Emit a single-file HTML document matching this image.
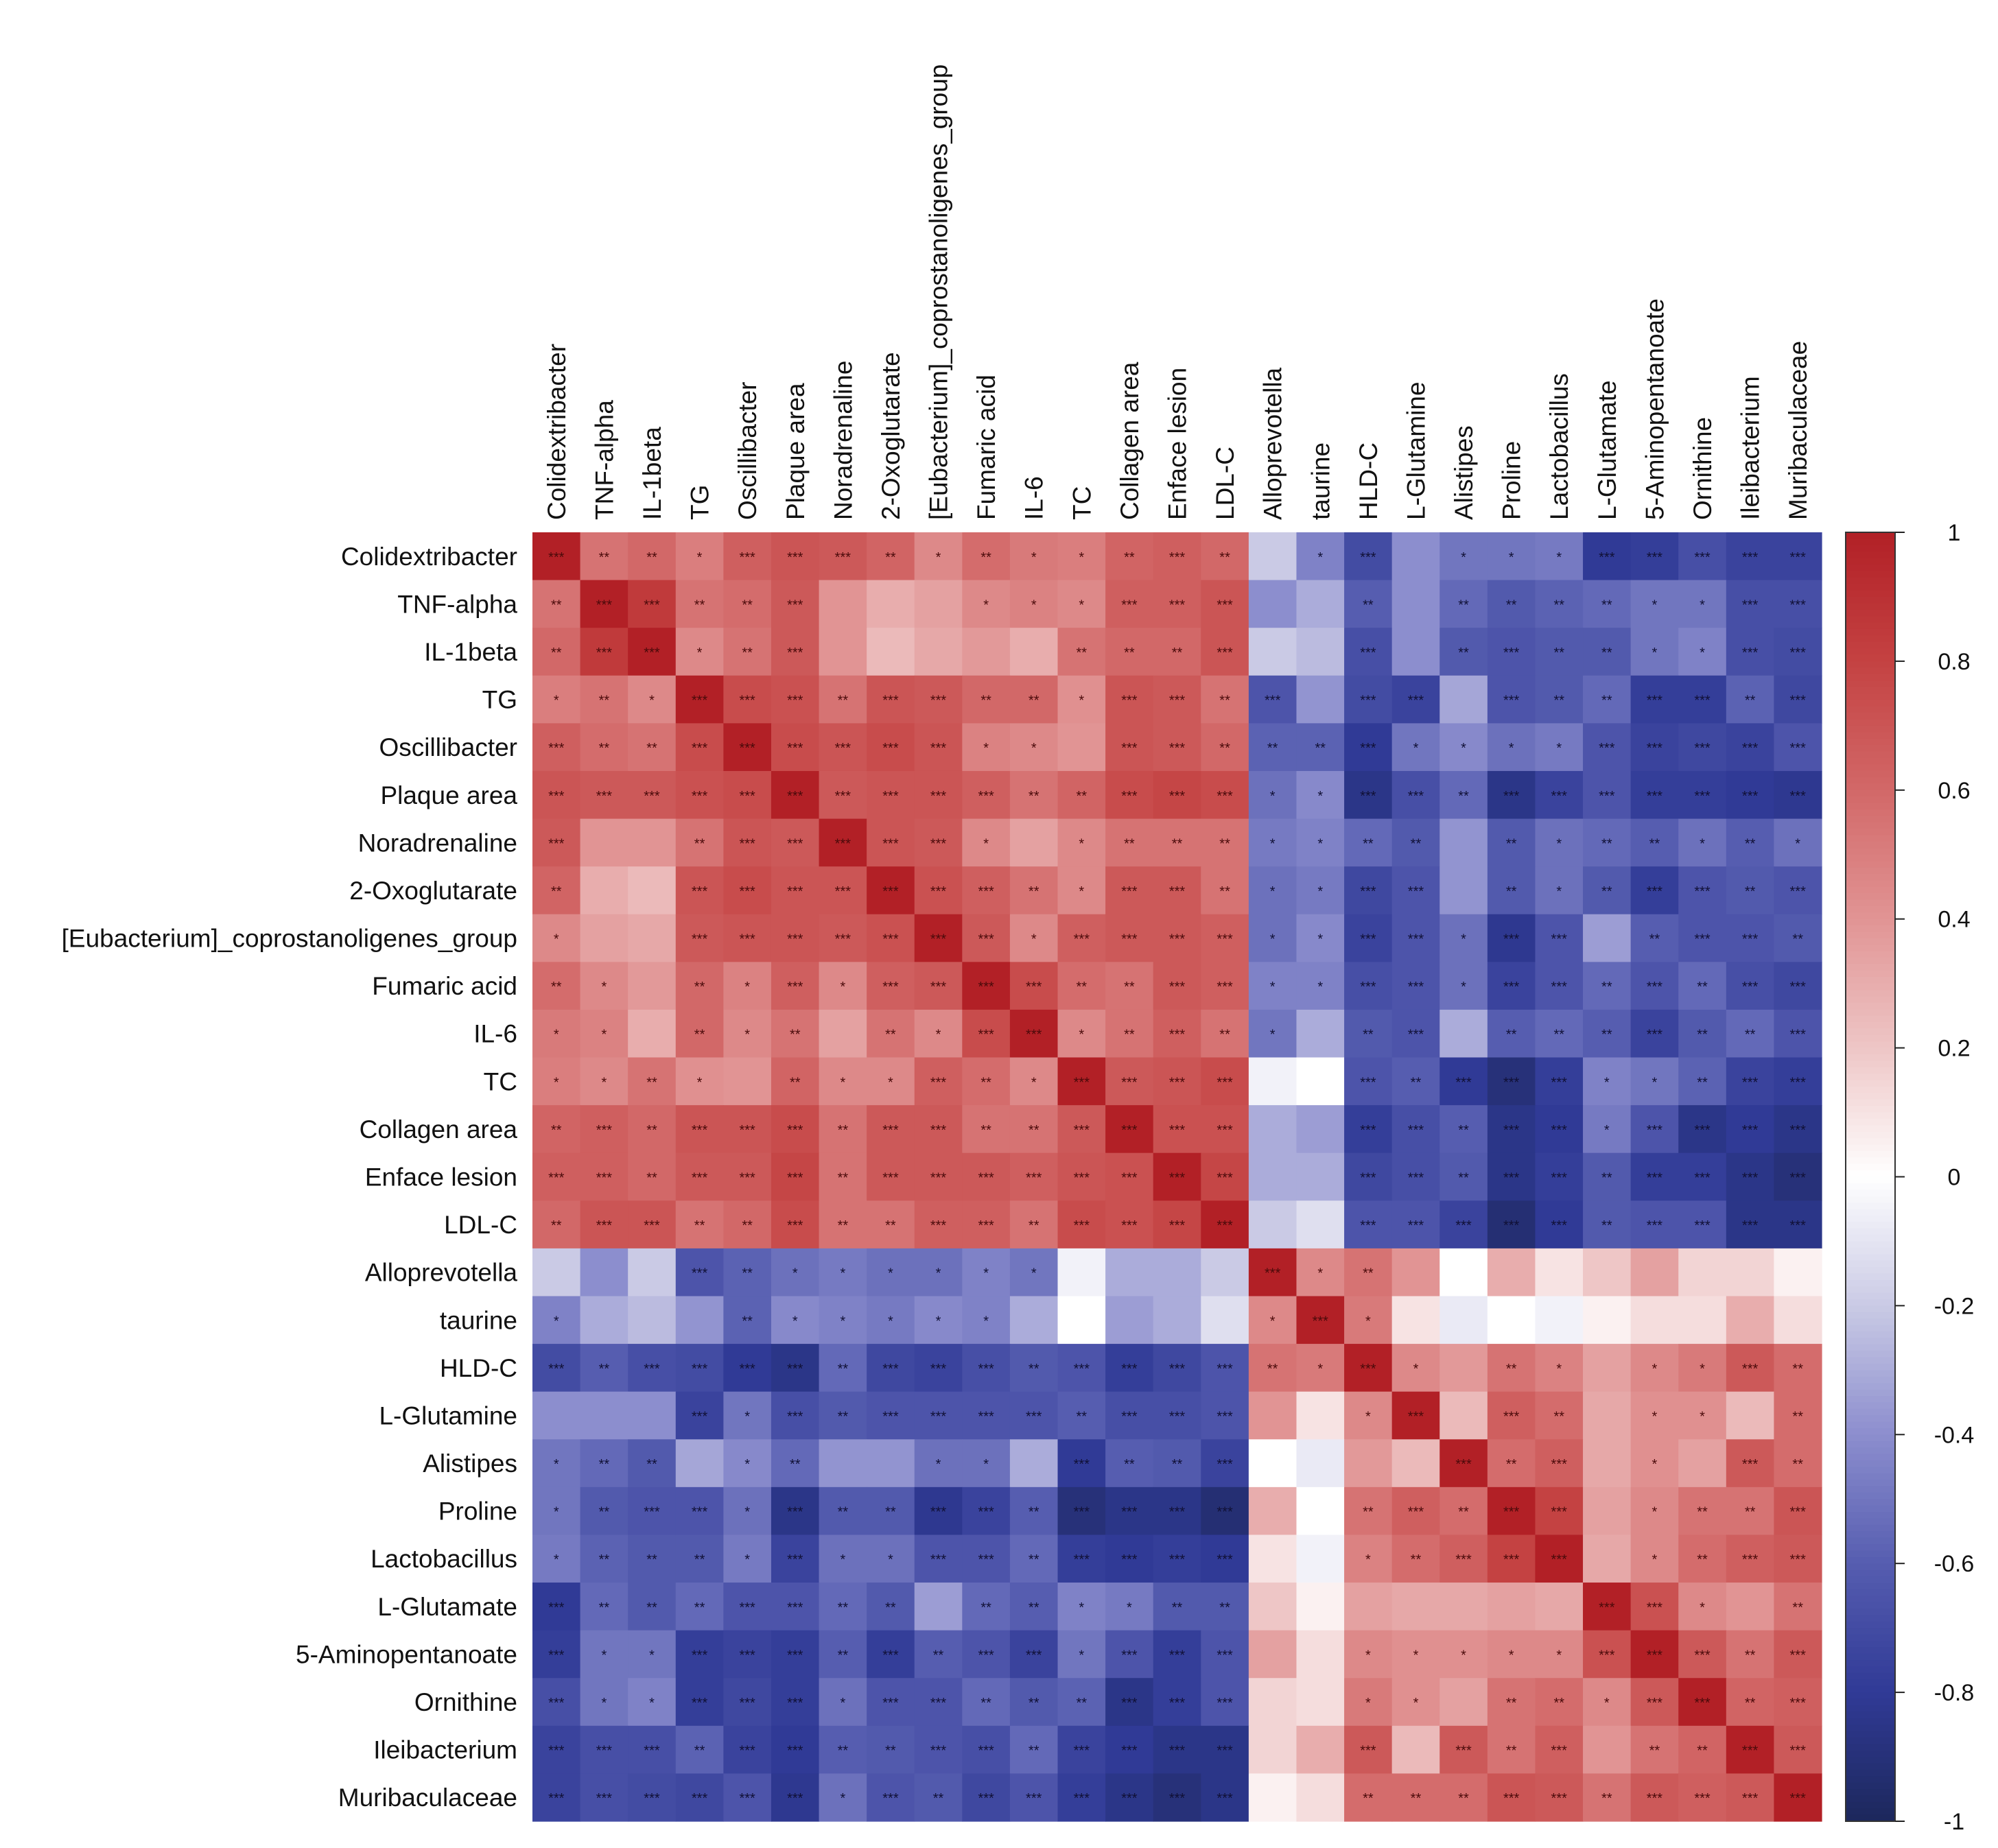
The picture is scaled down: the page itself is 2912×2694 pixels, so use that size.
<!DOCTYPE html>
<html><head><meta charset="utf-8"><style>
html,body{margin:0;padding:0;background:#fff;}
svg{display:block;font-family:"Liberation Sans",Arial,sans-serif;}
</style></head><body>
<svg id="chart" width="2912" height="2694" viewBox="0 0 2912 2694" xmlns="http://www.w3.org/2000/svg">
<g id="cells"></g>
<g id="stars"></g>
<g id="rowlabels"></g>
<g id="collabels"></g>
<g id="legend"></g>
</svg>
<script>
const labels = ["Colidextribacter","TNF-alpha","IL-1beta","TG","Oscillibacter","Plaque area","Noradrenaline","2-Oxoglutarate","[Eubacterium]_coprostanoligenes_group","Fumaric acid","IL-6","TC","Collagen area","Enface lesion","LDL-C","Alloprevotella","taurine","HLD-C","L-Glutamine","Alistipes","Proline","Lactobacillus","L-Glutamate","5-Aminopentanoate","Ornithine","Ileibacterium","Muribaculaceae"];
// upper triangle values (row i, columns i..26)
const upperValues = [
[1,.55,.6,.5,.65,.7,.68,.62,.45,.58,.52,.5,.62,.65,.6, -.2,-.45,-.7,-.4,-.5,-.5,-.48,-.8,-.78,-.68,-.75,-.75],
[1,.85,.55,.58,.68,.4,.3,.35,.45,.48,.45,.65,.65,.7, -.4,-.3,-.6,-.4,-.55,-.62,-.58,-.55,-.5,-.5,-.68,-.68],
[1,.45,.55,.68,.4,.25,.32,.38,.3,.55,.6,.6,.7, -.2,-.25,-.68,-.4,-.62,-.65,-.62,-.62,-.5,-.45,-.68,-.7],
[1,.75,.72,.55,.7,.68,.6,.6,.42,.7,.68,.55, -.65,-.38,-.7,-.75,-.32,-.65,-.62,-.55,-.78,-.78,-.58,-.72],
[1,.75,.7,.75,.7,.48,.45,.4,.7,.68,.6, -.58,-.58,-.8,-.5,-.42,-.52,-.48,-.65,-.75,-.72,-.75,-.65],
[1,.68,.7,.7,.65,.55,.62,.75,.78,.75, -.52,-.42,-.85,-.68,-.55,-.85,-.75,-.65,-.78,-.78,-.8,-.82],
[1,.7,.68,.45,.35,.45,.55,.55,.55, -.48,-.45,-.55,-.62,-.38,-.62,-.52,-.55,-.6,-.52,-.6,-.52],
[1,.72,.65,.55,.45,.68,.68,.55, -.52,-.48,-.72,-.65,-.38,-.62,-.52,-.62,-.78,-.65,-.62,-.65],
[1,.68,.45,.65,.68,.68,.65, -.52,-.42,-.75,-.65,-.52,-.82,-.65,-.35,-.6,-.65,-.65,-.62],
[1,.75,.58,.55,.68,.65, -.45,-.45,-.68,-.65,-.52,-.75,-.65,-.55,-.65,-.55,-.68,-.72],
[1,.45,.55,.65,.55, -.5,-.3,-.62,-.65,-.3,-.6,-.55,-.6,-.75,-.62,-.55,-.65],
[1,.68,.7,.75, -.05,0,-.65,-.6,-.8,-.9,-.78,-.45,-.5,-.58,-.75,-.78],
[1,.72,.72, -.3,-.35,-.78,-.68,-.6,-.85,-.8,-.48,-.65,-.85,-.8,-.85],
[1,.78, -.3,-.3,-.72,-.68,-.62,-.85,-.78,-.62,-.78,-.78,-.85,-.9],
[1, -.2,-.12,-.65,-.65,-.75,-.92,-.8,-.62,-.65,-.65,-.85,-.85],
[1,.45,.55,.4,0,.3,.1,.2,.35,.15,.15,.05],
[1,.52,.1,-.08,0,-.05,.05,.12,.12,.3,.12],
[1,.45,.38,.55,.48,.35,.45,.52,.68,.58],
[1,.25,.65,.58,.32,.42,.42,.25,.58],
[1,.58,.65,.32,.42,.35,.68,.58],
[1,.8,.35,.45,.55,.55,.7],
[1,.32,.45,.58,.65,.68],
[1,.72,.45,.4,.55],
[1,.68,.55,.68],
[1,.62,.65],
[1,.68],
[1]
];
const tickValues = [1,0.8,0.6,0.4,0.2,0,-0.2,-0.4,-0.6,-0.8,-1];
const tickLabels = ["1","0.8","0.6","0.4","0.2","0","-0.2","-0.4","-0.6","-0.8","-1"];

const NS="http://www.w3.org/2000/svg";
const X0=776, Y0=776, X1=2655, Y1=2655;
const n=labels.length, cw=(X1-X0)/n, ch=(Y1-Y0)/n;
const xPos=j=>X0+j*cw, yPos=i=>Y0+i*ch;
const stops=[[-1,[29,40,92]],[-0.8,[48,58,150]],[-0.6,[86,93,176]],[-0.4,[140,142,206]],[-0.2,[202,202,229]],[0,[255,255,255]],[0.2,[238,198,198]],[0.4,[225,148,148]],[0.6,[210,104,104]],[0.8,[196,66,66]],[1,[178,32,38]]];
function color(v){v=Math.max(-1,Math.min(1,v));for(let k=0;k<stops.length-1;k++){const a=stops[k],b=stops[k+1];if(v<=b[0]){const t=(v-a[0])/(b[0]-a[0]);const c=a[1].map((x,i)=>Math.round(x+(b[1][i]-x)*t));return `rgb(${c[0]},${c[1]},${c[2]})`;}}return 'rgb(178,32,38)';}
function mk(tag,attrs,parent){const e=document.createElementNS(NS,tag);for(const k in attrs)e.setAttribute(k,attrs[k]);parent.appendChild(e);return e;}
function val(i,j){if(j<i){const t=i;i=j;j=t;}return upperValues[i][j-i];}
function star(v){const a=Math.abs(v);if(a>=0.65)return "***";if(a>=0.53)return "**";if(a>=0.42)return "*";return "";}
const gC=document.getElementById('cells'),gS=document.getElementById('stars'),gR=document.getElementById('rowlabels'),gL=document.getElementById('collabels'),gG=document.getElementById('legend');
for(let i=0;i<n;i++){for(let j=0;j<n;j++){const v=val(i,j);
 const r=mk('rect',{x:xPos(j),y:yPos(i),width:cw+0.6,height:ch+0.6,fill:color(v)},gC);
 
 
 const s=star(v);if(s){const t=mk('text',{x:xPos(j)+cw/2,y:yPos(i)+ch/2+8,'text-anchor':'middle','font-size':20,fill:v>0?'#4a0a0a':'#101035'},gS);t.textContent=s;
 
 }
}}
for(let i=0;i<n;i++){const t=mk('text',{x:754,y:yPos(i)+ch/2+13,'text-anchor':'end','font-size':37,fill:'#111'},gR);t.textContent=labels[i];
 
 
 const cx=xPos(i)+cw/2+13;const c=mk('text',{x:0,y:0,'text-anchor':'start','font-size':37,fill:'#111',transform:`translate(${cx},758) rotate(-90)`},gL);c.textContent=labels[i];
 
 }
const BX=2690,BW=72;
const by=v=>Y0+(1-v)/2*(Y1-Y0);
for(let k=0;k<200;k++){const v0=1-k*0.01,v1=v0-0.01;const r=mk('rect',{x:BX,y:by(v0),width:BW,height:by(v1)-by(v0)+0.8,fill:color((v0+v1)/2)},gG);
 
 }
const fr=mk('rect',{x:BX,y:Y0,width:BW,height:Y1-Y0,fill:'none',stroke:'#333','stroke-width':2},gG);


tickValues.forEach((v,k)=>{const l=mk('line',{x1:BX+BW,x2:BX+BW+14,y1:by(v),y2:by(v),stroke:'#222','stroke-width':2},gG);
 
 
 const t=mk('text',{x:2848,y:by(v)+12,'text-anchor':'middle','font-size':34,fill:'#111'},gG);t.textContent=tickLabels[k];
 
 });
</script>
</body></html>
